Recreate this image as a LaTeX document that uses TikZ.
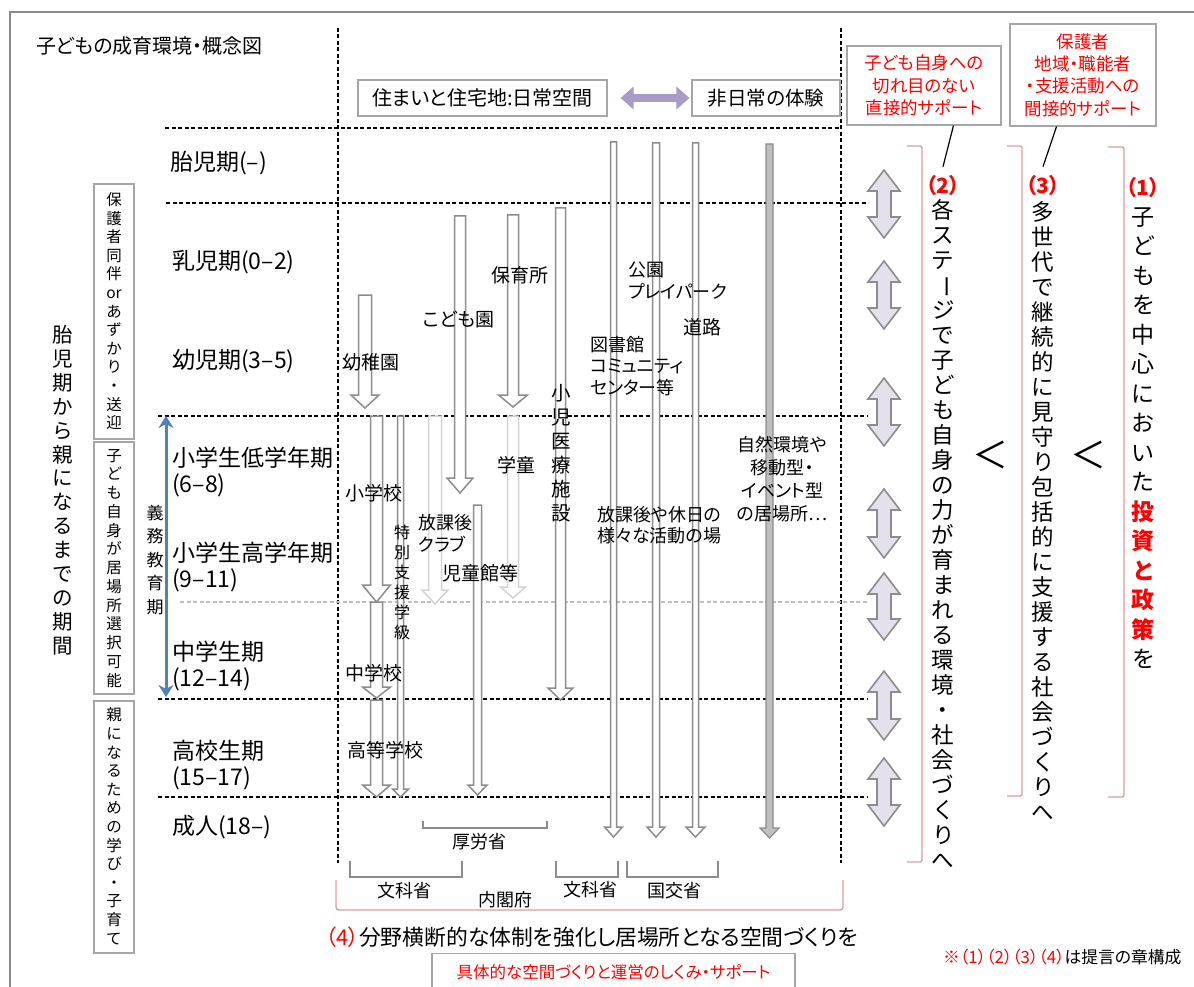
\documentclass[tikz,border=0pt]{standalone}
\usepackage{fontspec}
\usepackage{graphicx}
\setmainfont{Noto Sans CJK JP}[RawFeature=+palt]
\usetikzlibrary{arrows.meta,calc}
\definecolor{agray}{HTML}{8C8C8C}
\definecolor{lgray}{HTML}{D3D3D3}
\definecolor{bgray}{HTML}{A6A6A6}
\definecolor{ggray}{HTML}{BFBFBF}
\definecolor{lav}{HTML}{E4E0EC}
\definecolor{purp}{HTML}{A99BC8}
\definecolor{rbr}{HTML}{DD9C9C}
\definecolor{blu}{HTML}{4F81BD}
\definecolor{rd}{HTML}{FF0000}
\definecolor{framec}{HTML}{8A8A8A}
\newcommand\fsz[1]{\fontsize{#1}{#1}\selectfont}
\newcommand\fsl[2]{\fontsize{#1}{#2}\selectfont}
\newcommand\redb{\bfseries\color{rd}}
\newlength\vtp
\def\vtstop{VTSTOP}
\def\vtloop#1{\ifx\vtstop#1\else\vbox to\vtp{\vss\hbox to 1.2em{\hss\vrule height .86em depth .14em width 0pt\relax #1\hss}\vss}\expandafter\vtloop\fi}
\newcommand\vtxt[2]{\setlength\vtp{#1}\vbox{\offinterlineskip\vtloop#2\vtstop}}
\newcommand\vbar{\rotatebox[origin=c]{-90}{ー}}
\newcommand\blkarrow[7]{\draw[#7] ({#1-#4/2},#2) -- ({#1+#4/2},#2) -- ({#1+#4/2},{#3-#6}) -- ({#1+#5/2},{#3-#6}) -- (#1,#3) -- ({#1-#5/2},{#3-#6}) -- ({#1-#4/2},{#3-#6}) -- cycle;}
\newcommand\dblarrow[7]{\draw[#7] ({#1-#4/2},{#2+#6}) -- ({#1-#5/2},{#2+#6}) -- (#1,#2) -- ({#1+#5/2},{#2+#6}) -- ({#1+#4/2},{#2+#6}) -- ({#1+#4/2},{#3-#6}) -- ({#1+#5/2},{#3-#6}) -- (#1,#3) -- ({#1-#5/2},{#3-#6}) -- ({#1-#4/2},{#3-#6}) -- cycle;}
\begin{document}
\begin{tikzpicture}[x=1pt,y=-1pt, every node/.style={inner sep=0pt},
  sepline/.style={dash pattern=on 4pt off 2.5pt, line width=1.2pt, black},
  gsep/.style={dash pattern=on 4pt off 2.5pt, line width=1.2pt, ggray},
  tbox/.style={draw=bgray, line width=1.1pt, fill=white},
  blk/.style={draw=agray, line width=1.5pt, fill=white},
  blkl/.style={draw=lgray, line width=1.5pt, fill=white},
  blkg/.style={draw=agray, line width=1.2pt, fill=ggray},
  dbl/.style={draw=agray, line width=1.6pt, fill=lav},
  rbrk/.style={draw=rbr, line width=1.3pt, rounded corners=2pt},
  gbrk/.style={draw=agray, line width=2pt},
  lbl/.style={anchor=west, font=\fsz{19}},
  mlbl/.style={anchor=north west, align=left, font={\fsl{18}{22}}},
  stg/.style={anchor=west, align=left, font={\fsl{23}{26}}},
  vlbl/.style={anchor=north}]
\useasboundingbox (0,0) rectangle (1194,987);
\fill[white] (0,0) rectangle (1194,987);
% frame
\draw[framec, line width=1.5pt] (10,987) -- (10,12) -- (1194,12);
\node[anchor=west, font=\fsz{20}] (title) at (36,46) {子どもの成育環境・概念図};
% separators
\draw[sepline] (338,28) -- (338,863);
\draw[sepline] (841,28) -- (841,863);
\draw[sepline] (165,128) -- (841,128);
\draw[sepline] (166,203) -- (868,203);
\draw[sepline] (158,416) -- (868,416);
\draw[gsep] (180,602) -- (868,602);
\draw[sepline] (158,699) -- (868,699);
\draw[sepline] (158,797) -- (868,797);
% top boxes
\node[tbox, minimum width=249pt, minimum height=36pt, font=\fsz{20}] (b1) at (482.5,98) {住まいと住宅地:日常空間};
\node[tbox, minimum width=148pt, minimum height=36pt, font=\fsz{19.5}] (b2) at (766,98) {非日常の体験};
\draw[purp, line width=8pt, {Triangle[length=13pt,width=22pt]}-{Triangle[length=13pt,width=22pt]}] ([xshift=13pt]b1.east) -- ([xshift=-2pt]b2.west);
% callouts
\node[tbox, minimum width=154pt, minimum height=79pt, align=center, font={\fsl{17.5}{22.5}}, text=rd] (cb1) at (924,85.5) {子ども自身への\\切れ目のない\\直接的サポート};
\node[tbox, minimum width=146pt, minimum height=102pt, align=center, font={\fsl{17.5}{22.3}}, text=rd] (cb2) at (1083,75) {保護者\\地域・職能者\\・支援活動への\\間接的サポート};
\node[font={\fsz{21}\bfseries}, text=rd] (l2) at (943,186) {（2）};
\node[font={\fsz{21}\bfseries}, text=rd] (l3) at (1043,186) {（3）};
\node[font={\fsz{21}\bfseries}, text=rd] (l1) at (1143,188) {（1）};
\draw[line width=1.2pt] ($(cb1.south west)!0.69!(cb1.south east)$) -- ([yshift=9pt]l2.north);
\draw[line width=1.2pt] ($(cb2.south west)!0.32!(cb2.south east)$) -- ([yshift=9pt]l3.north);
% red brackets right
\draw[rbrk] (907,146) -- (922,146) -- (922,862) -- (907,862);
\draw[rbrk] (1007,146) -- (1022,146) -- (1022,796) -- (1007,796);
\draw[rbrk] (1108,147) -- (1124,147) -- (1124,797) -- (1108,797);
% right vertical texts
\node[vlbl, font=\fsz{22.5}] (c2) at (943,197.5) {\vtxt{25pt}{各ステ\vbar ジで子ども自身の力が育まれる環境・社会づくりへ}};
\node[vlbl, font=\fsz{22.5}] (c3) at (1043,199.5) {\vtxt{25pt}{多世代で継続的に見守り包括的に支援する社会づくりへ}};
\node[vlbl, font=\fsz{23}] (c1) at (1143,202.25) {\vtxt{29.5pt}{子どもを中心においた{\redb 投}{\redb 資}{\redb と}{\redb 政}{\redb 策}を}};
\node[font=\fsz{36}] (lt1) at (990,455) {＜};
\node[font=\fsz{36}] (lt2) at (1088,455) {＜};
% lavender double arrows
\dblarrow{884}{170}{238}{14}{32}{21}{dbl}
\dblarrow{884}{261}{329}{14}{32}{21}{dbl}
\dblarrow{884}{378}{446}{14}{32}{21}{dbl}
\dblarrow{884}{489}{558}{14}{32}{21}{dbl}
\dblarrow{884}{573}{640}{14}{32}{21}{dbl}
\dblarrow{884}{671}{740}{14}{32}{21}{dbl}
\dblarrow{884}{758}{826}{14}{32}{21}{dbl}
% stage labels
\node[stg] (s0) at (170,163) {胎児期(–)};
\node[stg] (s1) at (172,262) {乳児期(0–2)};
\node[stg] (s2) at (172,361) {幼児期(3–5)};
\node[stg] (s3) at (172,472) {小学生低学年期\\(6–8)};
\node[stg] (s4) at (172,567) {小学生高学年期\\(9–11)};
\node[stg] (s5) at (172,666.5) {中学生期\\(12–14)};
\node[stg] (s6) at (172,765) {高校生期\\(15–17)};
\node[stg] (s7) at (172,827) {成人(18–)};
% left boxes
\node[tbox, minimum width=40pt, minimum height=255pt, font=\fsz{15.5}] (lb1) at (114,311.5) {\vtxt{18.6pt}{保護者同伴{or}あずかり・送迎}};
\node[tbox, minimum width=40pt, minimum height=252pt, font=\fsz{15.5}] (lb2) at (114,568) {\vtxt{18.75pt}{子ども自身が居場所選択可能}};
\node[tbox, minimum width=40pt, minimum height=252pt, font=\fsz{15.5}] (lb3) at (114,827) {\vtxt{18.6pt}{親になるための学び・子育て}};
\node[vlbl, font=\fsz{20.5}] (lifelong) at (63,323) {\vtxt{23.9pt}{胎児期から親になるまでの期間}};
\node[vlbl, font=\fsz{17}] (gimu) at (155,501.25) {\vtxt{23.5pt}{義務教育期}};
\coordinate (bt) at (166,416);
\coordinate (bb) at (166,697);
\draw[blu, line width=3pt, {Stealth[length=12pt,width=15pt]}-{Stealth[length=12pt,width=15pt]}] (bt) -- (bb);
% block arrows (facilities)
\blkarrow{365}{295}{408}{13}{28}{13}{blk}
\blkarrow{460}{216}{493}{11}{26}{15}{blk}
\blkarrow{513}{215}{407}{11}{29}{12}{blk}
\blkarrow{560.5}{208}{700}{10}{25}{12}{blk}
\blkarrow{376.5}{416}{602}{12}{28}{17}{blk}
\blkarrow{376.5}{602}{698}{12}{28}{11}{blk}
\blkarrow{376.5}{700}{797}{12}{28}{12}{blk}
\blkarrow{400.5}{416}{797}{6}{16}{8}{blk}
\blkarrow{435}{416}{604}{13}{26}{14}{blkl}
\blkarrow{513}{416}{598}{11}{25}{11}{blkl}
\blkarrow{477.5}{505}{795}{8}{19}{10}{blk}
\blkarrow{613.5}{142}{837}{6}{18}{10}{blk}
\blkarrow{656}{143}{837}{7}{18}{10}{blk}
\blkarrow{695.5}{143}{837}{6}{19}{10}{blk}
\blkarrow{769.5}{144}{838}{7}{19}{10}{blkg}
% facility labels
\node[lbl] (yochien) at (342,362) {幼稚園};
\node[lbl] (kodomoen) at (423,320) {こども園};
\node[lbl] (hoikusho) at (491,275) {保育所};
\node[vlbl, font=\fsz{19.5}] (iryo) at (561,381) {\vtxt{24pt}{小児医療施設}};
\node[lbl] (shogakko) at (345,493) {小学校};
\node[lbl] (chugakko) at (345,673) {中学校};
\node[lbl] (koko) at (347,750) {高等学校};
\node[vlbl, font=\fsz{16}] (tokubetsu) at (402,523) {\vtxt{20pt}{特別支援学級}};
\node[mlbl] (club) at (418,514) {放課後\\クラブ};
\node[lbl] (jidokan) at (442,573) {児童館等};
\node[lbl] (gakudo) at (497,465) {学童};
\node[mlbl] (koen) at (628,262) {公園\\プレイパーク};
\node[lbl] (doro) at (683,327) {道路};
\node[anchor=north west, align=left, font={\fsl{18}{21.5}}] (tosho) at (590,336) {図書館\\コミュニティ\\センター等};
\node[anchor=north, align=center, font={\fsl{18}{23}}] (shizen) at (782,436) {自然環境や\\移動型・\\イベント型\\の居場所…};
\node[anchor=north west, align=left, font={\fsl{18}{21}}] (hokago) at (597,506) {放課後や休日の\\様々な活動の場};
% ministry brackets
\draw[gbrk] (423,821) -- (423,828) -- (547,828) -- (547,821);
\node[font=\fsz{18}] (koro) at (479,842) {厚労省};
\draw[gbrk] (350,861) -- (350,877) -- (462,877) -- (462,861);
\node[font=\fsz{18}] (monka1) at (404,891) {文科省};
\draw[gbrk] (556,861) -- (556,877) -- (618,877) -- (618,861);
\node[font=\fsz{18}] (monka2) at (590,890) {文科省};
\draw[gbrk] (627,861) -- (627,877) -- (718,877) -- (718,861);
\node[font=\fsz{18}] (kokko) at (674,891) {国交省};
\draw[rbrk, rounded corners=3pt] (336,880) -- (336,910) -- (843,910) -- (843,880);
\node[font=\fsz{18}] (naikaku) at (505,900) {内閣府};
% bottom
\node[anchor=west, font=\fsz{21.8}] (four) at (325,937) {{\color{rd}（4）}分野横断的な体制を強化し居場所となる空間づくりを};
\node[tbox, minimum width=363pt, minimum height=40pt, anchor=north] (bbox) at (613.5,953) {};
\node[font=\fsz{16.5}, text=rd] (bboxt) at (613.5,972) {具体的な空間づくりと運営のしくみ・サポート};
\node[anchor=west, font=\fsz{16.8}] (note) at (943,957) {{\color{rd}※（1）（2）（3）（4）}は提言の章構成};
\end{tikzpicture}
\end{document}
